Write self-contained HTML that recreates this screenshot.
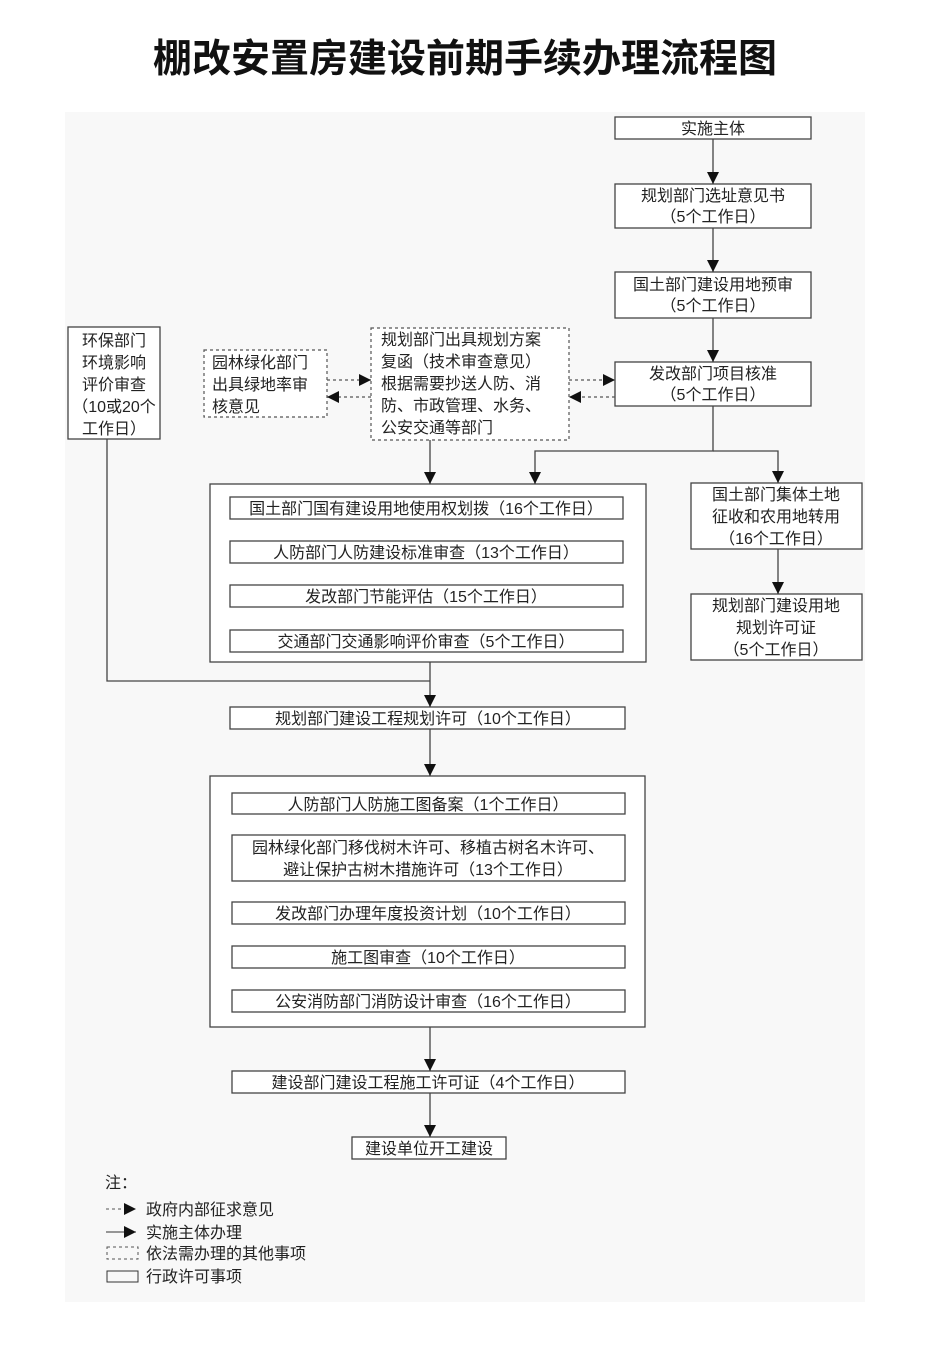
<!DOCTYPE html>
<html><head><meta charset="utf-8"><style>
body{margin:0;background:#fff}
svg text{font-family:"Liberation Sans","Noto Sans CJK SC",sans-serif;font-size:16px;fill:#222}
</style></head><body>
<svg width="950" height="1350" xmlns="http://www.w3.org/2000/svg">
<defs>
<marker id="a" viewBox="0 0 10 10" refX="10" refY="5" markerWidth="12" markerHeight="12" markerUnits="userSpaceOnUse" orient="auto"><path d="M0,0L10,5L0,10z" fill="#111"/></marker>
</defs>
<rect x="0" y="0" width="950" height="1350" fill="#fff"/>
<rect x="65" y="112" width="800" height="1190" fill="#f8f8f8"/>
<text x="465" y="72" text-anchor="middle" style="font-size:39px;font-weight:bold;fill:#111">棚改安置房建设前期手续办理流程图</text>
<g fill="#fff" stroke="#444" stroke-width="1.3">
<rect x="615" y="117" width="196" height="22"/>
<rect x="615" y="184" width="196" height="44"/>
<rect x="615" y="272" width="196" height="46"/>
<rect x="615" y="362" width="196" height="44"/>
<rect x="68" y="327" width="92" height="112"/>
<rect x="210" y="484" width="436" height="178"/>
<rect x="230" y="497" width="393" height="22"/>
<rect x="230" y="541" width="393" height="22"/>
<rect x="230" y="585" width="393" height="22"/>
<rect x="230" y="630" width="393" height="22"/>
<rect x="691" y="483" width="171" height="66"/>
<rect x="691" y="594" width="171" height="66"/>
<rect x="230" y="707" width="395" height="22"/>
<rect x="210" y="776" width="435" height="251"/>
<rect x="232" y="793" width="393" height="21"/>
<rect x="232" y="835" width="393" height="46"/>
<rect x="232" y="902" width="393" height="22"/>
<rect x="232" y="946" width="393" height="22"/>
<rect x="232" y="990" width="393" height="22"/>
<rect x="232" y="1071" width="393" height="22"/>
<rect x="352" y="1137" width="154" height="22"/>
</g>
<g fill="#fff" stroke="#555" stroke-width="1.2" stroke-dasharray="3,3">
<rect x="204" y="350" width="123" height="67"/>
<rect x="371" y="328" width="198" height="112"/>
</g>
<g stroke="#444" stroke-width="1.3" fill="none">
<line x1="713" y1="139" x2="713" y2="184" marker-end="url(#a)"/>
<line x1="713" y1="228" x2="713" y2="272" marker-end="url(#a)"/>
<line x1="713" y1="318" x2="713" y2="362" marker-end="url(#a)"/>
<polyline points="713,406 713,451 535,451 535,484" marker-end="url(#a)"/>
<polyline points="713,451 778,451 778,483" marker-end="url(#a)"/>
<line x1="778" y1="549" x2="778" y2="594" marker-end="url(#a)"/>
<line x1="430" y1="440" x2="430" y2="484" marker-end="url(#a)"/>
<polyline points="107,439 107,681 430,681"/>
<line x1="430" y1="662" x2="430" y2="707" marker-end="url(#a)"/>
<line x1="430" y1="729" x2="430" y2="776" marker-end="url(#a)"/>
<line x1="430" y1="1027" x2="430" y2="1071" marker-end="url(#a)"/>
<line x1="430" y1="1093" x2="430" y2="1137" marker-end="url(#a)"/>
</g>
<g stroke="#555" stroke-width="1.2" stroke-dasharray="3,3" fill="none">
<line x1="327" y1="380" x2="371" y2="380" marker-end="url(#a)"/>
<line x1="371" y1="397" x2="327" y2="397" marker-end="url(#a)"/>
<line x1="569" y1="380" x2="615" y2="380" marker-end="url(#a)"/>
<line x1="615" y1="397" x2="569" y2="397" marker-end="url(#a)"/>
</g>
<g text-anchor="middle">
<text x="713" y="134">实施主体</text>
<text x="713" y="201">规划部门选址意见书</text>
<text x="713" y="222">（5个工作日）</text>
<text x="713" y="290">国土部门建设用地预审</text>
<text x="713" y="311">（5个工作日）</text>
<text x="713" y="379">发改部门项目核准</text>
<text x="713" y="400">（5个工作日）</text>
<text x="114" y="346">环保部门</text>
<text x="114" y="368">环境影响</text>
<text x="114" y="390">评价审查</text>
<text x="114" y="412">（10或20个</text>
<text x="114" y="434">工作日）</text>
<text x="426" y="514">国土部门国有建设用地使用权划拨（16个工作日）</text>
<text x="426" y="558">人防部门人防建设标准审查（13个工作日）</text>
<text x="426" y="602">发改部门节能评估（15个工作日）</text>
<text x="426" y="647">交通部门交通影响评价审查（5个工作日）</text>
<text x="776" y="500">国土部门集体土地</text>
<text x="776" y="522">征收和农用地转用</text>
<text x="776" y="544">（16个工作日）</text>
<text x="776" y="611">规划部门建设用地</text>
<text x="776" y="633">规划许可证</text>
<text x="776" y="655">（5个工作日）</text>
<text x="428" y="724">规划部门建设工程规划许可（10个工作日）</text>
<text x="428" y="810">人防部门人防施工图备案（1个工作日）</text>
<text x="428" y="853">园林绿化部门移伐树木许可、移植古树名木许可、</text>
<text x="428" y="875">避让保护古树木措施许可（13个工作日）</text>
<text x="428" y="919">发改部门办理年度投资计划（10个工作日）</text>
<text x="428" y="963">施工图审查（10个工作日）</text>
<text x="428" y="1007">公安消防部门消防设计审查（16个工作日）</text>
<text x="428" y="1088">建设部门建设工程施工许可证（4个工作日）</text>
<text x="429" y="1154">建设单位开工建设</text>
</g>
<g>
<text x="212" y="368">园林绿化部门</text>
<text x="212" y="390">出具绿地率审</text>
<text x="212" y="412">核意见</text>
<text x="381" y="345">规划部门出具规划方案</text>
<text x="381" y="367">复函（技术审查意见）</text>
<text x="381" y="389">根据需要抄送人防、消</text>
<text x="381" y="411">防、市政管理、水务、</text>
<text x="381" y="433">公安交通等部门</text>
</g>
<text x="105" y="1188">注：</text>
<line x1="106" y1="1209" x2="136" y2="1209" stroke="#555" stroke-dasharray="3,3" marker-end="url(#a)"/>
<text x="146" y="1215">政府内部征求意见</text>
<line x1="106" y1="1232" x2="136" y2="1232" stroke="#333" marker-end="url(#a)"/>
<text x="146" y="1238">实施主体办理</text>
<rect x="107" y="1247" width="31" height="12" fill="none" stroke="#555" stroke-dasharray="3,3"/>
<text x="146" y="1259">依法需办理的其他事项</text>
<rect x="107" y="1271" width="31" height="11" fill="none" stroke="#333"/>
<text x="146" y="1282">行政许可事项</text>
</svg>
</body></html>
